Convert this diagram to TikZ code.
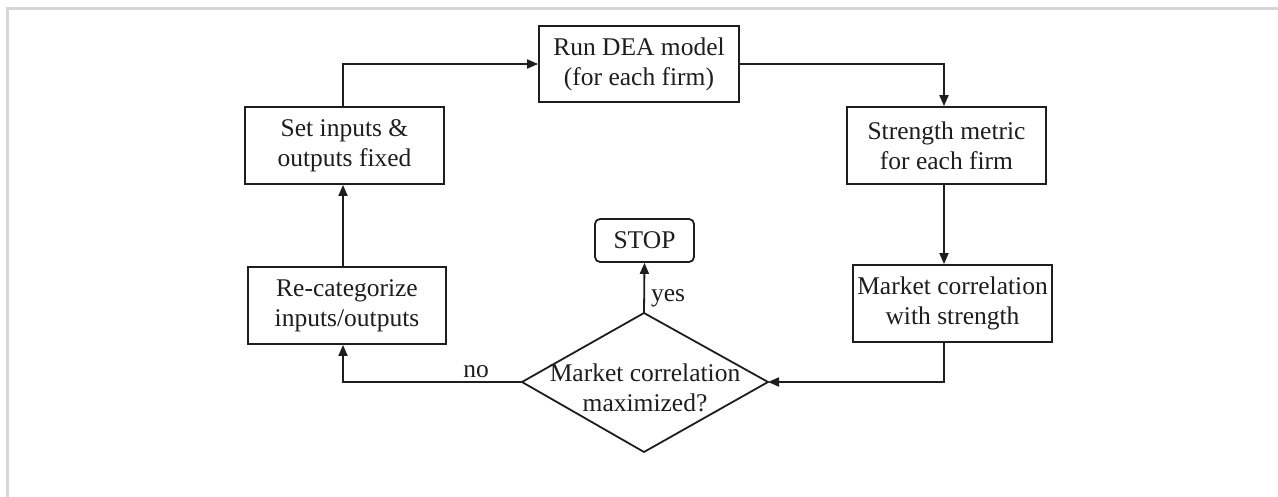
\documentclass[tikz,border=0pt]{standalone}
\usepackage{fontspec}
\setmainfont{Liberation Serif}
\usetikzlibrary{arrows.meta,calc}
\definecolor{ink}{HTML}{1E1E1E}
\definecolor{framegray}{HTML}{D6D6D6}
\tikzset{
  stepbox/.style={draw=ink, line width=1.8pt, rectangle, align=center, inner sep=0pt,
    minimum width=199pt, minimum height=77pt, font=\fontsize{25.5}{30}\selectfont, text=ink},
  stopbox/.style={draw=ink, line width=1.8pt, rectangle, rounded corners=5pt, inner sep=0pt,
    minimum width=99pt, minimum height=43pt, font=\fontsize{25.5}{30}\selectfont, text=ink},
  conn/.style={draw=ink, line width=1.8pt, -{Triangle[length=11pt,width=9pt]}},
  lbl/.style={font=\fontsize{25.5}{30}\selectfont, text=ink, inner sep=0pt},
}
\begin{document}
\begin{tikzpicture}[x=1pt,y=-1pt]
\useasboundingbox (0,0) rectangle (1278,497);
\fill[white] (0,0) rectangle (1278,497);
% frame (only top and left visible)
\draw[framegray, line width=3pt] (7,497) -- (7,9) -- (1278,9);

\node[stepbox] (set) at (344.5,145.5) {Set inputs \&\\outputs fixed};
\node[stepbox, minimum width=200pt, minimum height=76pt] (run) at (639,64) {Run DEA model\\(for each firm)};
\node[stepbox] (str) at (946.5,145.5) {Strength metric\\for each firm};
\node[stepbox] (mkt) at (952.5,303.5) {Market correlation\\with strength};
\node[stepbox, minimum width=198pt] (rec) at (347,305.5) {Re-categorize\\inputs/outputs};
\node[stopbox] (stop) at (644.5,240.5) {STOP};

% decision diamond
\coordinate (dT) at (644,313);
\coordinate (dB) at (644,452);
\coordinate (dL) at (522,382);
\coordinate (dR) at (768,382);
\draw[ink, line width=1.8pt, line join=miter] (dT) -- (dR) -- (dB) -- (dL) -- cycle;
\node[lbl, align=center] (dec) at (645,388) {Market correlation\\maximized?};

% connector columns
\path (set.south) ++(-1.5,0) coordinate (setS);
\path (set.north) ++(-1.5,0) coordinate (setN);
\path (str.south) ++(-2.5,0) coordinate (strS);
\path (str.north) ++(-2.5,0) coordinate (strN);

% connectors
\draw[conn] (setN) |- (run.west);
\draw[conn] (run.east) -| (strN);
\draw[conn] (strS) -- (strS |- mkt.north);
\draw[conn] (strS |- mkt.south) |- (dR);
\draw[conn] (dT) -- (stop.south);
\draw[conn] (dL) -| (setS |- rec.south);
\draw[conn] (setS |- rec.north) -- (setS);

\node[lbl] (yes) at (668,298) {yes};
\node[lbl] (no) at (476,372) {no};
\end{tikzpicture}
\end{document}
